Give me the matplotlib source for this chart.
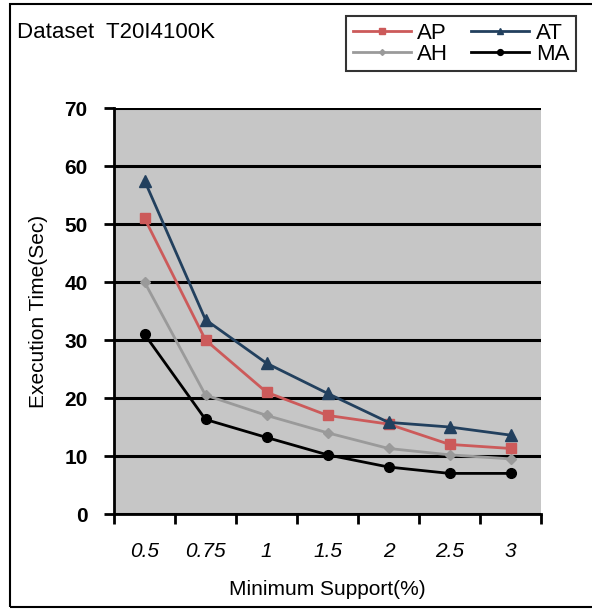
import numpy as np
import matplotlib
matplotlib.use('Agg')
import matplotlib.pyplot as plt
from matplotlib.patches import Rectangle

support = ['0.5', '0.75', '1', '1.5', '2', '2.5', '3']
ap = [51, 30, 21, 17, 15.5, 12, 11.3]
at = [57.5, 33.5, 26, 20.8, 15.8, 15, 13.6]
ah = [40, 20.5, 17, 14, 11.3, 10.2, 9.5]
ma = [31, 16.3, 13.2, 10.2, 8.1, 7, 7]
yticks = [0, 10, 20, 30, 40, 50, 60, 70]

plt.rcParams['font.family'] = ['Liberation Sans', 'DejaVu Sans']

fig = plt.figure(figsize=(5.92, 6.10), dpi=100)
ax = fig.add_axes([114/592, 1 - 514/610, (541 - 114)/592, (514 - 108)/610])

x = np.arange(len(support))
ax.set_facecolor('#c6c6c6')
l_ap, = ax.plot(x, ap, color='#cc5a5a', lw=2, marker='s', ms=7, label='AP', zorder=4)
l_at, = ax.plot(x, at, color='#22405e', lw=2, marker='^', ms=8, label='AT', zorder=4)
l_ah, = ax.plot(x, ah, color='#9a9a9a', lw=2, marker='D', ms=5, label='AH', zorder=3)
l_ma, = ax.plot(x, ma, color='black', lw=2, marker='o', ms=7, label='MA', zorder=4)

ax.set_xlim(-0.5, len(support) - 0.5)
ax.set_ylim(0, 70)
ax.set_yticks(yticks)
ax.set_yticklabels([str(v) for v in yticks], fontsize=15, fontweight='bold')
ax.set_xticks(x)
ax.set_xticklabels(support, fontsize=15, style='italic')
ax.set_xticks(np.arange(len(support) + 1) - 0.5, minor=True)
ax.tick_params(axis='x', which='major', length=0, pad=20)
ax.tick_params(axis='x', which='minor', length=7, width=2, direction='out')
ax.tick_params(axis='y', length=7, width=2, direction='out', pad=12)
ax.grid(axis='y', color='black', lw=2.2)
ax.set_axisbelow(True)
for s in ['top', 'right']:
    ax.spines[s].set_visible(False)
for s in ['left', 'bottom']:
    ax.spines[s].set_linewidth(2)

ax.set_ylabel('Execution Time(Sec)', fontsize=15, labelpad=12)
ax.set_xlabel('Minimum Support(%)', fontsize=15, labelpad=14)

fig.text(17/592, 1 - 33/610, 'Dataset  T20I4100K', fontsize=16, va='center', ha='left')

# outer frame of the chart
fig.patches.append(Rectangle((10/592, 3/610), 600/592, 603/610, transform=fig.transFigure,
                             fill=False, ec='black', lw=1.5))

leg = fig.legend([l_ap, l_ah, l_at, l_ma], ['AP', 'AH', 'AT', 'MA'],
                 loc='upper left', bbox_to_anchor=(335/592, 1 - 62/610, 252/592, 57/610),
                 mode='expand', ncol=2, fontsize=16, frameon=True, fancybox=False,
                 edgecolor='black', handlelength=2.6, handletextpad=0.3,
                 labelspacing=0.0, borderpad=0.3, markerscale=0.6)
leg.get_frame().set_linewidth(1.5)

fig.savefig('out.png', dpi=100)
